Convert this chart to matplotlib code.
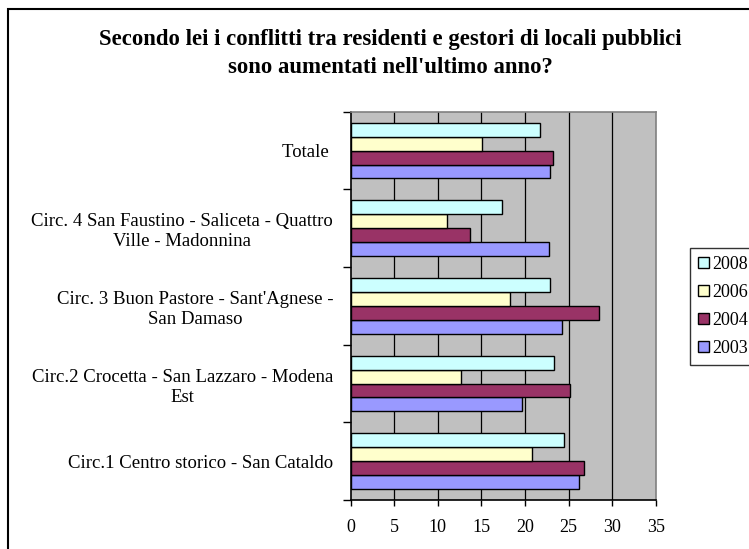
import matplotlib
matplotlib.use("Agg")
import matplotlib.pyplot as plt
from matplotlib.patches import Patch, Rectangle
import numpy as np

categories = [
    "Circ.1 Centro storico - San Cataldo",
    "Circ.2 Crocetta - San Lazzaro - Modena\nEst",
    "Circ. 3 Buon Pastore - Sant'Agnese -\nSan Damaso",
    "Circ. 4 San Faustino - Saliceta - Quattro\nVille - Madonnina",
    "Totale ",
]
series_names = ["2003", "2004", "2006", "2008"]
v2003 = [26.2, 19.7, 24.2, 22.7, 22.9]
v2004 = [26.8, 25.1, 28.5, 13.7, 23.2]
v2006 = [20.8, 12.7, 18.3, 11.0, 15.1]
v2008 = [24.5, 23.3, 22.9, 17.3, 21.7]
xticks = [0, 5, 10, 15, 20, 25, 30, 35]

colors = {"2003": "#9999FF", "2004": "#993366", "2006": "#FFFFCC", "2008": "#CCFFFF"}
title_lines = ["Secondo lei i conflitti tra residenti e gestori di locali pubblici",
               "sono aumentati nell'ultimo anno?"]

plt.rcParams["font.family"] = ["Liberation Serif", "DejaVu Serif"]

W, H = 749, 549
fig = plt.figure(figsize=(W / 100, H / 100), dpi=100)

# outer chart border (cut off at right/bottom as in reference)
fig.patches.append(Rectangle((8 / W, -0.05), 1.1, (H - 9) / H + 0.05, transform=fig.transFigure,
                             fill=False, edgecolor="black", linewidth=1.5))

ax = fig.add_axes([350.5 / W, 1 - 500 / H, (656 - 350.5) / W, (500 - 111.7) / H])
ax.set_facecolor("#C0C0C0")

y = np.arange(len(categories))
h = 0.18
all_vals = {"2003": v2003, "2004": v2004, "2006": v2006, "2008": v2008}
for k, name in enumerate(series_names):
    ax.barh(y + (k - 1.5) * h, all_vals[name], height=h, color=colors[name],
            edgecolor="black", linewidth=1.0, zorder=3)

ax.set_xlim(0, 35)
ax.set_ylim(-0.5, len(categories) - 0.5)
ax.set_xticks(xticks)
ax.set_xticklabels([str(t) for t in xticks], fontsize=13)
ax.tick_params(axis="x", direction="out", length=4, width=1, pad=10)
for xv in xticks[1:-1]:
    ax.axvline(xv, color="black", linewidth=0.9, zorder=1)

ax.set_yticks(np.arange(-0.5, len(categories), 1.0))
ax.set_yticklabels([])
ax.tick_params(axis="y", which="major", direction="out", length=6, width=1)
ax.set_yticks(y, minor=True)
ax.set_yticklabels(categories, minor=True, fontsize=13.5)
ax.tick_params(axis="y", which="minor", length=0, pad=12.5)
for lbl in ax.get_yticklabels(minor=True):
    lbl.set_multialignment("center")
    lbl.set_linespacing(1.25)

ax.spines["left"].set_color("black")
ax.spines["bottom"].set_color("black")
ax.spines["top"].set_color("#808080")
ax.spines["right"].set_color("#808080")
for s in ax.spines.values():
    s.set_linewidth(1.2)

# title centred on the (partly cut-off) chart area
for line, base in zip(title_lines, [45, 73]):
    fig.text(390.5 / W, 1 - base / H, line, ha="center", va="baseline", fontsize=16.4,
             fontweight="bold")

handles = [Patch(facecolor=colors[n], edgecolor="black", linewidth=1.0) for n in series_names[::-1]]
leg = fig.legend(handles, series_names[::-1], loc="upper left",
                 bbox_to_anchor=(690 / W, 1 - 248 / H), fontsize=13,
                 frameon=True, fancybox=False, edgecolor="black",
                 handlelength=0.6, handleheight=0.6, handletextpad=0.2,
                 labelspacing=0.6, borderpad=0.45, borderaxespad=0)
leg.get_frame().set_linewidth(1.0)

fig.savefig("out.png", dpi=100)
